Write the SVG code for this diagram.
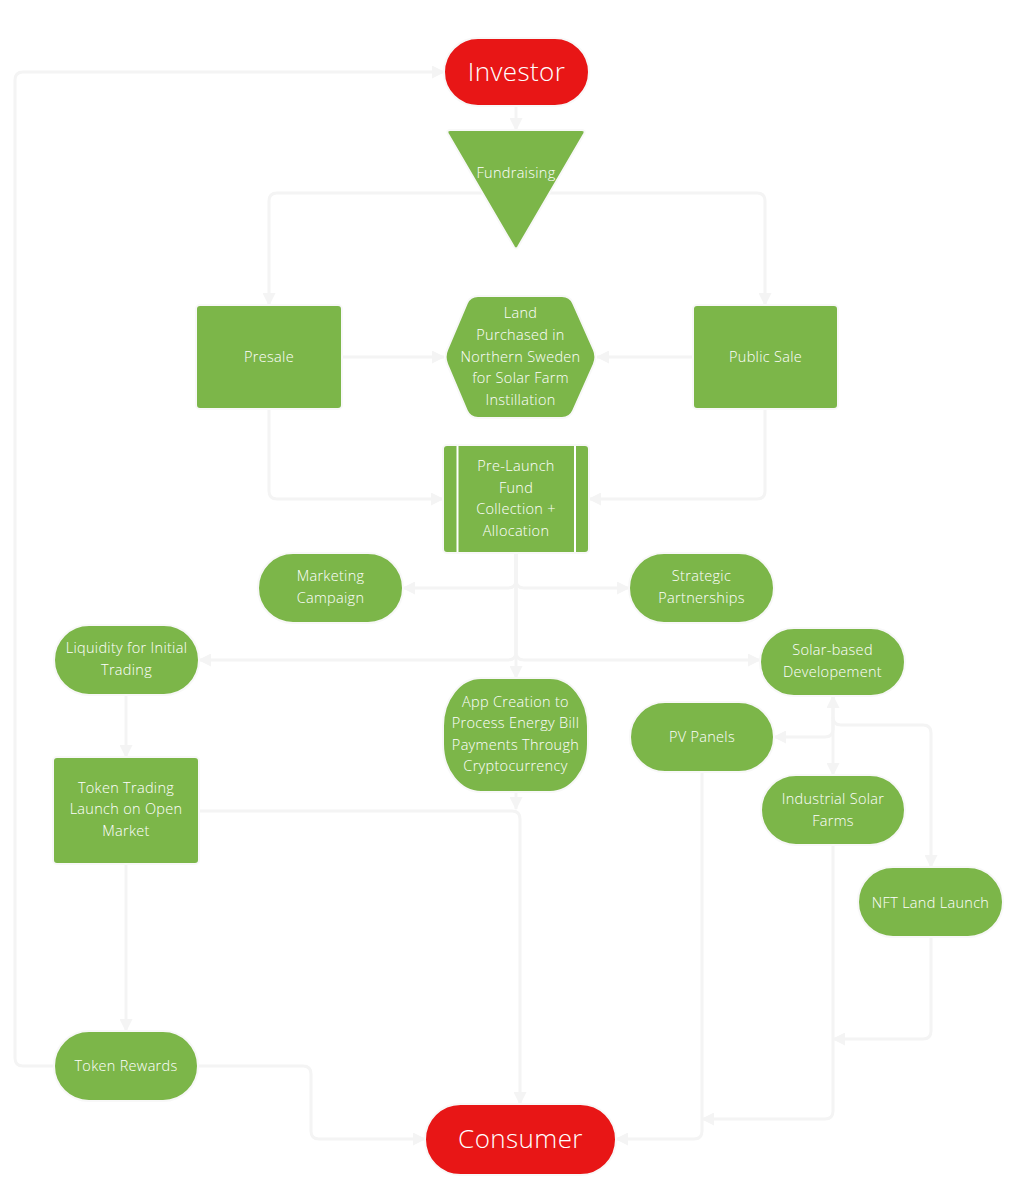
<svg xmlns="http://www.w3.org/2000/svg" width="1020" height="1200" viewBox="0 0 1020 1200">
<defs>
<marker id="arr" markerUnits="userSpaceOnUse" markerWidth="13" markerHeight="13" refX="12" refY="6.5" orient="auto">
<path d="M0,0 L13,6.5 L0,13 z" fill="#f4f4f4"/>
</marker>
<style>
.c{fill:none;stroke:#f4f4f4;stroke-width:3;marker-end:url(#arr)}
.g{fill:#7cb649;stroke:#f8f8f8;stroke-width:2}
.r{fill:#e81616;stroke:#f8f8f8;stroke-width:2}
text{font-family:"Open Sans","Liberation Sans",sans-serif;font-weight:300;fill:#ffffff;text-anchor:middle}
.t{font-size:14.5px;letter-spacing:0.3px}
.b{font-size:26px;letter-spacing:0.4px}
</style>
</defs>
<rect width="1020" height="1200" fill="#ffffff"/>
<g id="connectors">
<path class="c" d="M516,106 V130"/>
<path class="c" d="M516,193 H277 Q269,193 269,201 V305"/>
<path class="c" d="M516,193 H757 Q765,193 765,201 V305"/>
<path class="c" d="M342,357 H444"/>
<path class="c" d="M693,357 H597"/>
<path class="c" d="M269,409 V491 Q269,499 277,499 H443"/>
<path class="c" d="M765,409 V491 Q765,499 757,499 H589"/>
<path class="c" d="M516,553 V580 Q516,588 508,588 H403"/>
<path class="c" d="M516,553 V580 Q516,588 524,588 H629"/>
<path class="c" d="M516,553 V652 Q516,660 508,660 H199"/>
<path class="c" d="M516,553 V652 Q516,660 524,660 H760"/>
<path class="c" d="M516,553 V678"/>
<path class="c" d="M516,792 V809"/>
<path class="c" d="M199,811 H512 Q520,811 520,819 V1104"/>
<path class="c" d="M126,695 V757"/>
<path class="c" d="M126,864 V1031"/>
<path class="c" d="M54,1066 H23 Q15,1066 15,1058 V80 Q15,72 23,72 H444"/>
<path class="c" d="M198,1066 H303 Q311,1066 311,1074 V1131 Q311,1139 319,1139 H425"/>
<path class="c" d="M833,730 V696"/>
<path class="c" d="M833,696 V729 Q833,737 825,737 H774"/>
<path class="c" d="M833,696 V775"/>
<path class="c" d="M833,717 Q833,725 841,725 H923 Q931,725 931,733 V867"/>
<path class="c" d="M702,772 V1131 Q702,1139 694,1139 H616"/>
<path class="c" d="M833,845 V1111 Q833,1119 825,1119 H702"/>
<path class="c" d="M931,937 V1031 Q931,1039 923,1039 H833"/>
</g>
<g id="investor"><rect class="r" x="444" y="38" width="145" height="68" rx="34"/><text class="b" x="516.5" y="81">Investor</text></g>
<g id="fundraising"><path class="g" stroke-linejoin="round" d="M450,130 H582 Q586,130 584,134 L518,247 Q516,250 514,247 L448,134 Q446,130 450,130 Z"/><text class="t" x="516" y="178">Fundraising</text></g>
<g id="presale"><rect class="g" x="196" y="305" width="146" height="104" rx="4"/><text class="t" x="269" y="362">Presale</text></g>
<g id="land"><path class="g" d="M478,296 H562 Q570,296 573.2,303.3 L593.8,349.7 Q597,357 593.8,364.3 L573.2,410.7 Q570,418 562,418 H478 Q470,418 466.8,410.7 L447.2,364.3 Q444,357 447.2,349.7 L466.8,303.3 Q470,296 478,296 Z"/><text class="t"><tspan x="520.5" y="318">Land</tspan><tspan x="520.5" y="340">Purchased in</tspan><tspan x="520.5" y="362">Northern Sweden</tspan><tspan x="520.5" y="383">for Solar Farm</tspan><tspan x="520.5" y="405">Instillation</tspan></text></g>
<g id="public-sale"><rect class="g" x="693" y="305" width="145" height="104" rx="4"/><text class="t" x="765.5" y="362">Public Sale</text></g>
<g id="pre-launch"><rect class="g" x="443" y="445" width="146" height="108" rx="4"/><line x1="457.5" y1="446" x2="457.5" y2="552" stroke="#ffffff" stroke-width="2"/><line x1="575" y1="446" x2="575" y2="552" stroke="#ffffff" stroke-width="2"/><text class="t"><tspan x="516" y="471">Pre-Launch</tspan><tspan x="516" y="493">Fund</tspan><tspan x="516" y="514">Collection +</tspan><tspan x="516" y="536">Allocation</tspan></text></g>
<g id="marketing"><rect class="g" x="258" y="553" width="145" height="70" rx="35"/><text class="t"><tspan x="330.5" y="581">Marketing</tspan><tspan x="330.5" y="603">Campaign</tspan></text></g>
<g id="strategic"><rect class="g" x="629" y="553" width="145" height="70" rx="35"/><text class="t"><tspan x="701.5" y="581">Strategic</tspan><tspan x="701.5" y="603">Partnerships</tspan></text></g>
<g id="liquidity"><rect class="g" x="54" y="625" width="145" height="70" rx="35"/><text class="t"><tspan x="126.5" y="653">Liquidity for Initial</tspan><tspan x="126.5" y="675">Trading</tspan></text></g>
<g id="solar"><rect class="g" x="760" y="628" width="145" height="68" rx="34"/><text class="t"><tspan x="832.5" y="655">Solar-based</tspan><tspan x="832.5" y="677">Developement</tspan></text></g>
<g id="app"><rect class="g" x="443" y="678" width="145" height="114" rx="38" ry="48"/><text class="t"><tspan x="515.5" y="707">App Creation to</tspan><tspan x="515.5" y="728">Process Energy Bill</tspan><tspan x="515.5" y="750">Payments Through</tspan><tspan x="515.5" y="771">Cryptocurrency</tspan></text></g>
<g id="pv"><rect class="g" x="630" y="702" width="144" height="70" rx="35"/><text class="t" x="702" y="742">PV Panels</text></g>
<g id="industrial"><rect class="g" x="761" y="775" width="144" height="70" rx="35"/><text class="t"><tspan x="833" y="804">Industrial Solar</tspan><tspan x="833" y="826">Farms</tspan></text></g>
<g id="nft"><rect class="g" x="858" y="867" width="145" height="70" rx="35"/><text class="t" x="930.5" y="908">NFT Land Launch</text></g>
<g id="token-trading"><rect class="g" x="53" y="757" width="146" height="107" rx="4"/><text class="t"><tspan x="126" y="793">Token Trading</tspan><tspan x="126" y="814">Launch on Open</tspan><tspan x="126" y="836">Market</tspan></text></g>
<g id="token-rewards"><rect class="g" x="54" y="1031" width="144" height="70" rx="35"/><text class="t" x="126" y="1071">Token Rewards</text></g>
<g id="consumer"><rect class="r" x="425" y="1104" width="191" height="71" rx="35.5"/><text class="b" x="520.5" y="1148">Consumer</text></g>
</svg>
